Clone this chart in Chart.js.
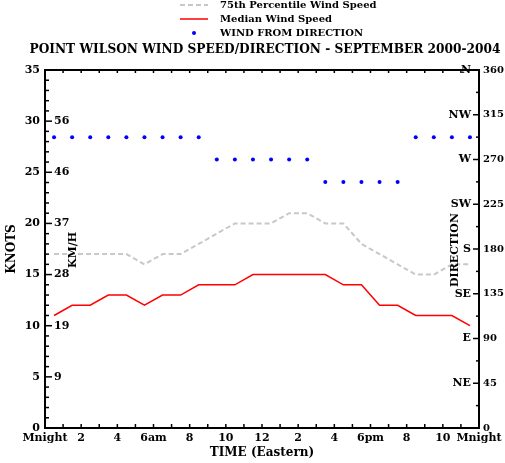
<!DOCTYPE html>
<html>
<head>
<meta charset="utf-8">
<script src="https://cdn.jsdelivr.net/npm/chart.js@4.4.0/dist/chart.umd.min.js"></script>
<style>
  html, body { margin: 0; padding: 0; background: #fff; }
</style>
</head>
<body>
<canvas id="chart" width="505" height="463"></canvas>
<script>
// hourly averages, plotted at the middle of each hour
const hours = [0.5, 1.5, 2.5, 3.5, 4.5, 5.5, 6.5, 7.5, 8.5, 9.5, 10.5, 11.5,
  12.5, 13.5, 14.5, 15.5, 16.5, 17.5, 18.5, 19.5, 20.5, 21.5, 22.5, 23.5];
const pct75Speed = [17, 17, 17, 17, 17, 16, 17, 17, 18, 19, 20, 20,
  20, 21, 21, 20, 20, 18, 17, 16, 15, 15, 16, 16];
const medianSpeed = [11, 12, 12, 13, 13, 12, 13, 13, 14, 14, 14, 15,
  15, 15, 15, 15, 14, 14, 12, 12, 11, 11, 11, 10];
const windDir = [292.5, 292.5, 292.5, 292.5, 292.5, 292.5, 292.5, 292.5, 292.5, 270, 270, 270,
  270, 270, 270, 247.5, 247.5, 247.5, 247.5, 247.5, 292.5, 292.5, 292.5, 292.5];

const timeLabels = ['Mnight', '2', '4', '6am', '8', '10', '12', '2', '4', '6pm', '8', '10', 'Mnight'];
const knotTicks = [5, 10, 15, 20, 25, 30];
const kmhLabels = ['9', '19', '28', '37', '46', '56'];
const dirTicks = [45, 90, 135, 180, 225, 270, 315, 360];
const compassLabels = ['NE', 'E', 'SE', 'S', 'SW', 'W', 'NW', 'N'];

const FONT = '"DejaVu Serif", "Liberation Serif", serif';
Chart.defaults.font.family = FONT;
Chart.defaults.font.weight = 'bold';
Chart.defaults.font.size = 11;
Chart.defaults.color = '#000';

const pts = (vals) => hours.map((h, i) => ({ x: h, y: vals[i] }));

// box, inward ticks, inner labels, legend and title
const framePlugin = {
  id: 'frame',
  afterDraw(chart) {
    const { ctx, chartArea: a, scales: { x, y, y2 } } = chart;
    const seg = (x1, y1, x2, y2_) => { ctx.beginPath(); ctx.moveTo(x1, y1); ctx.lineTo(x2, y2_); ctx.stroke(); };
    ctx.save();
    ctx.strokeStyle = '#000';
    ctx.lineWidth = 2;
    ctx.strokeRect(a.left, a.top, a.right - a.left, a.bottom - a.top);

    ctx.lineWidth = 1.5;
    for (let v = 1; v < 35; v++) {
      const py = y.getPixelForValue(v);
      seg(a.left, py, a.left + (v % 5 === 0 ? 7 : 4), py);
    }
    for (let v = 22.5; v < 360; v += 22.5) {
      const py = y2.getPixelForValue(v);
      seg(a.right, py, a.right - (v % 45 === 0 ? 6 : 3), py);
    }
    for (let h = 1; h < 24; h++) {
      const px = x.getPixelForValue(h);
      seg(px, a.bottom, px, a.bottom - 4);
      seg(px, a.top, px, a.top + 3);
    }

    ctx.fillStyle = '#000';
    ctx.font = 'bold 11px ' + FONT;
    ctx.textBaseline = 'middle';
    ctx.textAlign = 'left';
    knotTicks.forEach((k, i) => ctx.fillText(kmhLabels[i], a.left + 9, y.getPixelForValue(k)));
    ctx.textAlign = 'right';
    dirTicks.forEach((d, i) => ctx.fillText(compassLabels[i], a.right - 8, y2.getPixelForValue(d)));

    // rotated inner axis names
    ctx.textAlign = 'center';
    ctx.save();
    ctx.translate(73, 250);
    ctx.rotate(-Math.PI / 2);
    ctx.fillText('KM/H', 0, 0);
    ctx.restore();
    ctx.save();
    ctx.translate(455, 250);
    ctx.rotate(-Math.PI / 2);
    ctx.fillText('DIRECTION', 0, 0);
    ctx.restore();

    // title, sized to the width it has in the original
    const title = 'POINT WILSON WIND SPEED/DIRECTION - SEPTEMBER 2000-2004';
    ctx.font = 'bold 14px ' + FONT;
    const size = 14 * 470 / ctx.measureText(title).width;
    ctx.font = 'bold ' + size.toFixed(1) + 'px ' + FONT;
    ctx.fillText(title, 265, 50);

    // legend, one row per dataset
    ctx.font = 'bold 10px ' + FONT;
    ctx.textAlign = 'left';
    chart.data.datasets.forEach((ds, i) => {
      const ly = 5 + i * 14;
      if (ds.showLine === false) {
        ctx.fillStyle = ds.pointBackgroundColor;
        ctx.beginPath();
        ctx.arc(194, ly, 2, 0, Math.PI * 2);
        ctx.fill();
      } else {
        ctx.strokeStyle = ds.borderColor;
        ctx.lineWidth = ds.borderWidth;
        ctx.setLineDash(ds.borderDash || []);
        seg(180, ly, 208, ly);
        ctx.setLineDash([]);
      }
      ctx.fillStyle = '#000';
      ctx.fillText(ds.label, 220, ly);
    });
    ctx.restore();
  }
};

new Chart(document.getElementById('chart'), {
  type: 'line',
  data: {
    datasets: [
      {
        label: '75th Percentile Wind Speed',
        data: pts(pct75Speed),
        borderColor: '#c8c8c8',
        borderWidth: 2,
        borderDash: [5, 3],
        pointRadius: 0,
        tension: 0,
        yAxisID: 'y'
      },
      {
        label: 'Median Wind Speed',
        data: pts(medianSpeed),
        borderColor: '#ff0000',
        borderWidth: 1.5,
        pointRadius: 0,
        tension: 0,
        yAxisID: 'y'
      },
      {
        label: 'WIND FROM DIRECTION',
        data: pts(windDir),
        showLine: false,
        pointStyle: 'circle',
        pointRadius: 2,
        pointBorderWidth: 0,
        pointBackgroundColor: '#0000ff',
        yAxisID: 'y2'
      }
    ]
  },
  options: {
    responsive: false,
    animation: false,
    devicePixelRatio: 1,
    layout: { padding: { top: 70, left: 0, right: 0, bottom: 0 } },
    plugins: { legend: { display: false }, title: { display: false }, tooltip: { enabled: false } },
    scales: {
      x: {
        type: 'linear',
        min: 0,
        max: 24,
        grid: { display: false, drawTicks: false },
        border: { display: false },
        ticks: {
          stepSize: 2,
          autoSkip: false,
          maxRotation: 0,
          padding: 4,
          callback: (v) => timeLabels[v / 2]
        },
        title: { display: true, text: 'TIME (Eastern)', font: { size: 12 }, padding: { top: 0, bottom: 3 } },
        afterFit: (s) => { s.height = 35; s.paddingLeft = 0; s.paddingRight = 0; }
      },
      y: {
        position: 'left',
        min: 0,
        max: 35,
        grid: { display: false, drawTicks: false },
        border: { display: false },
        ticks: { stepSize: 5, padding: 5 },
        title: { display: true, text: 'KNOTS', font: { size: 12 }, padding: { top: 5, bottom: 0 } },
        afterFit: (s) => { s.width = 45; s.paddingTop = 0; s.paddingBottom = 0; }
      },
      y2: {
        position: 'right',
        min: 0,
        max: 360,
        grid: { display: false, drawTicks: false },
        border: { display: false },
        ticks: { stepSize: 45, padding: 4, font: { size: 10 } },
        afterFit: (s) => { s.width = 26; s.paddingTop = 0; s.paddingBottom = 0; }
      }
    }
  },
  plugins: [framePlugin]
});
</script>
</body>
</html>
